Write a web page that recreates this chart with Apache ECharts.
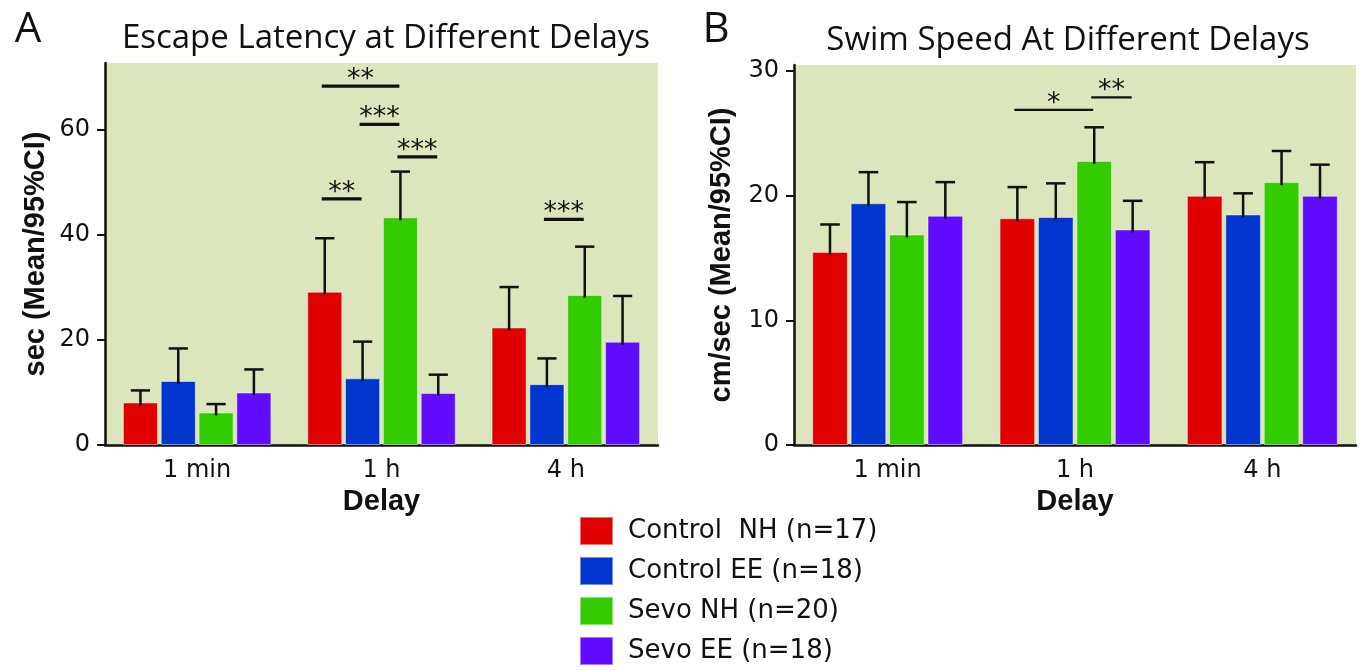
<!DOCTYPE html>
<html>
<head>
<meta charset="utf-8">
<script src="https://cdn.jsdelivr.net/npm/echarts@6/dist/echarts.min.js"></script>
<style>html,body{margin:0;padding:0;background:#fff}#c{width:1360px;height:671px}</style>
</head>
<body>
<div id="c"></div>
<script>
// ---- data ----
const categories = ['1 min', '1 h', '4 h'];
const groupNames = ['Control  NH (n=17)', 'Control EE (n=18)', 'Sevo NH (n=20)', 'Sevo EE (n=18)'];

// Panel A: escape latency (sec), mean and upper 95% CI
const latControlNH = [8.1, 29.2, 22.4];
const latControlEE = [12.2, 12.7, 11.6];
const latSevoNH = [6.2, 43.4, 28.6];
const latSevoEE = [10.0, 9.9, 19.7];
const latControlNHUpper = [10.4, 39.4, 30.1];
const latControlEEUpper = [18.4, 19.7, 16.5];
const latSevoNHUpper = [7.8, 52.1, 37.8];
const latSevoEEUpper = [14.4, 13.4, 28.4];
const latTicks = [0, 20, 40, 60];
// significance: [category, fromGroup, toGroup, level, stars]
const latSig = [
  [1, 0, 2, 68.4, '**'],
  [1, 1, 2, 61.1, '***'],
  [1, 2, 3, 54.9, '***'],
  [1, 0, 1, 46.9, '**'],
  [2, 1, 2, 43.0, '***']
];

// Panel B: swim speed (cm/sec)
const spdControlNH = [15.5, 18.2, 20.0];
const spdControlEE = [19.4, 18.3, 18.5];
const spdSevoNH = [16.9, 22.8, 21.1];
const spdSevoEE = [18.4, 17.3, 20.0];
const spdControlNHUpper = [17.7, 20.7, 22.7];
const spdControlEEUpper = [21.9, 21.0, 20.2];
const spdSevoNHUpper = [19.5, 25.5, 23.6];
const spdSevoEEUpper = [21.1, 19.6, 22.5];
const spdTicks = [0, 10, 20, 30];
const spdSig = [
  [1, 0, 2, 26.9, '*'],
  [1, 2, 3, 27.9, '**']
];

// ---- styling ----
const colors = ['#e00000', '#0035d0', '#33cc00', '#5f0cff'];
const BAR_FRAC = 0.19, GAP_FRAC = 0.08;
const INK = '#111';
const tickFont = 'DejaVu Sans';
const boldFont = 'Liberation Sans';

function barCenter(api, cat, s, val) {
  const band = api.size([1, 0])[0];
  const bw = band * BAR_FRAC, gap = bw * GAP_FRAC;
  const total = 4 * bw + 3 * gap;
  const c = api.coord([cat, val]);
  return { x: c[0] - total / 2 + s * (bw + gap) + bw / 2, y: c[1], bw: bw };
}

function errRender(params, api) {
  const cat = api.value(0), s = api.value(1);
  const b = barCenter(api, cat, s, api.value(2));
  const top = api.coord([cat, api.value(3)])[1];
  const cap = b.bw * 0.55;
  const st = { stroke: INK, lineWidth: 2.5 };
  return { type: 'group', children: [
    { type: 'line', shape: { x1: b.x, y1: b.y + 3, x2: b.x, y2: top }, style: st },
    { type: 'line', shape: { x1: b.x - cap / 2, y1: top, x2: b.x + cap / 2, y2: top }, style: st }
  ]};
}

function sigRenderFactory(rows, lw) {
  return function (params, api) {
    const r = rows[params.dataIndex];
    const a = barCenter(api, r[0], r[1], r[3]);
    const b = barCenter(api, r[0], r[2], r[3]);
    return { type: 'group', children: [
      { type: 'line', shape: { x1: a.x - 3, y1: a.y, x2: b.x - 1, y2: a.y }, style: { stroke: INK, lineWidth: lw } },
      { type: 'text', x: (a.x + b.x) / 2 - 2, y: a.y - 6,
        style: { text: r[4], fontSize: 27, fontFamily: tickFont, fill: INK,
                 align: 'center', verticalAlign: 'middle', textAlign: 'center', textVerticalAlign: 'middle' } }
    ]};
  };
}

function errData(means, uppers) {
  const out = [];
  means.forEach((m, s) => m.forEach((v, i) => out.push([i, s, v, uppers[s][i]])));
  return out;
}

const latMeans = [latControlNH, latControlEE, latSevoNH, latSevoEE];
const latUppers = [latControlNHUpper, latControlEEUpper, latSevoNHUpper, latSevoEEUpper];
const spdMeans = [spdControlNH, spdControlEE, spdSevoNH, spdSevoEE];
const spdUppers = [spdControlNHUpper, spdControlEEUpper, spdSevoNHUpper, spdSevoEEUpper];

function xAxisFor(gridIndex) {
  return {
    type: 'category', gridIndex: gridIndex, data: categories, boundaryGap: true,
    name: 'Delay', nameLocation: 'middle', nameGap: 42,
    nameTextStyle: { fontFamily: boldFont, fontWeight: 'bold', fontSize: 29, color: INK },
    axisLine: { lineStyle: { color: INK, width: 2.5 } },
    axisTick: { alignWithLabel: true, length: 9, lineStyle: { color: INK, width: 2 } },
    axisLabel: { color: INK, fontFamily: tickFont, fontSize: 24, margin: 14 },
    splitLine: { show: false }
  };
}
function yAxisFor(gridIndex, name, max, interval, ticks, gap) {
  return {
    type: 'value', gridIndex: gridIndex, min: 0, max: max, interval: interval,
    name: name, nameLocation: 'middle', nameGap: gap,
    nameTextStyle: { fontFamily: boldFont, fontWeight: 'bold', fontSize: 29, color: INK },
    axisLine: { show: true, lineStyle: { color: INK, width: 2.5 } },
    axisTick: { show: true, length: 8, lineStyle: { color: INK, width: 2 }, customValues: ticks },
    axisLabel: { color: INK, fontFamily: tickFont, fontSize: 24, margin: 15, customValues: ticks,
                 formatter: v => (ticks.indexOf(v) >= 0 ? String(v) : '') },
    splitLine: { show: false }
  };
}

const series = [];
latMeans.forEach((m, s) => series.push({
  name: groupNames[s], type: 'bar', xAxisIndex: 0, yAxisIndex: 0, data: m,
  barWidth: (BAR_FRAC * 100) + '%', barGap: (GAP_FRAC * 100) + '%',
  itemStyle: { color: colors[s], borderColor: 'rgba(255,255,255,0.45)', borderWidth: 1 }, z: 2
}));
spdMeans.forEach((m, s) => series.push({
  name: groupNames[s], type: 'bar', xAxisIndex: 1, yAxisIndex: 1, data: m,
  barWidth: (BAR_FRAC * 100) + '%', barGap: (GAP_FRAC * 100) + '%',
  itemStyle: { color: colors[s], borderColor: 'rgba(255,255,255,0.45)', borderWidth: 1 }, z: 2
}));
series.push({ type: 'custom', xAxisIndex: 0, yAxisIndex: 0, renderItem: errRender, z: 5, silent: true,
  encode: { x: 0, y: [2, 3] }, data: errData(latMeans, latUppers) });
series.push({ type: 'custom', xAxisIndex: 1, yAxisIndex: 1, renderItem: errRender, z: 5, silent: true,
  encode: { x: 0, y: [2, 3] }, data: errData(spdMeans, spdUppers) });
series.push({ type: 'custom', xAxisIndex: 0, yAxisIndex: 0, renderItem: sigRenderFactory(latSig, 3.2), z: 5, silent: true,
  encode: { x: 0, y: 1 }, data: latSig.map(r => [r[0], r[3]]) });
series.push({ type: 'custom', xAxisIndex: 1, yAxisIndex: 1, renderItem: sigRenderFactory(spdSig, 2.2), z: 5, silent: true,
  encode: { x: 0, y: 1 }, data: spdSig.map(r => [r[0], r[3]]) });

function label(text, x, y, size) {
  return { type: 'text', x: x, y: y, silent: true,
    style: { text: text, fontFamily: 'Open Sans', fontSize: size, fill: INK,
             align: 'center', verticalAlign: 'middle', textAlign: 'center', textVerticalAlign: 'middle' } };
}

const option = {
  animation: false,
  backgroundColor: '#ffffff',
  grid: [
    { left: 105, top: 63, width: 553, height: 382, show: true, backgroundColor: '#dce6bc', borderWidth: 0, outerBoundsMode: 'none', containLabel: false },
    { left: 794, top: 65, width: 562, height: 380, show: true, backgroundColor: '#dce6bc', borderWidth: 0, outerBoundsMode: 'none', containLabel: false }
  ],
  xAxis: [xAxisFor(0), xAxisFor(1)],
  yAxis: [
    yAxisFor(0, 'sec (Mean/95%CI)', 72.8, 20, latTicks, 55),
    yAxisFor(1, 'cm/sec (Mean/95%CI)', 30.5, 10, spdTicks, 58)
  ],
  legend: {
    data: groupNames, orient: 'vertical', left: 579, top: 516, padding: 0, width: 400, height: 400,
    itemWidth: 33, itemHeight: 28, itemGap: 10, icon: 'rect', selectedMode: false,
    textStyle: { fontFamily: tickFont, fontSize: 26, lineHeight: 28, color: INK, padding: [0, 0, 0, 10] }
  },
  graphic: [
    label('A', 28, 30, 42),
    label('B', 716, 30, 42),
    label('Escape Latency at Different Delays', 386, 39, 33),
    label('Swim Speed At Different Delays', 1068, 41, 33)
  ],
  series: series
};

const chart = echarts.init(document.getElementById('c'), null, { renderer: 'canvas' });
chart.setOption(option);
</script>
</body>
</html>
